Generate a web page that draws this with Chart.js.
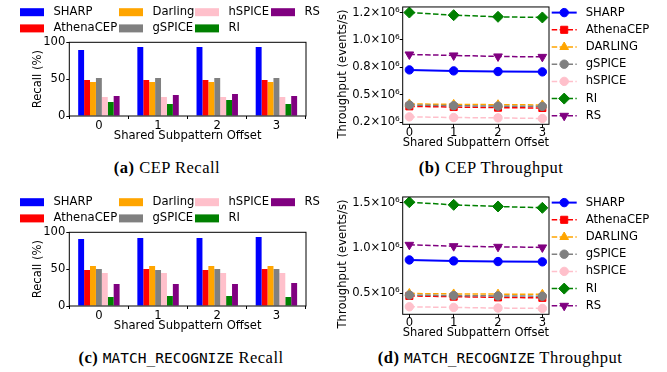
<!DOCTYPE html>
<html><head><meta charset="utf-8">
<script src="https://cdn.jsdelivr.net/npm/chart.js@4.4.1/dist/chart.umd.min.js"></script>
<style>
html,body{margin:0;padding:0;background:#fff;}
#root{position:relative;width:667px;height:372px;overflow:hidden;background:#fff;}
canvas{position:absolute;}
.cap{position:absolute;width:400px;text-align:center;font-family:'Liberation Serif',serif;font-size:16.5px;line-height:20px;letter-spacing:0.5px;color:#000;white-space:nowrap;}
.cap b{font-weight:bold;}
.mono{font-family:'DejaVu Sans Mono',monospace;font-size:14.5px;letter-spacing:0;}
</style></head>
<body><div id="root">
<canvas id="ca" width="333" height="150" style="left:0;top:0"></canvas>
<canvas id="cb" width="334" height="150" style="left:333px;top:0"></canvas>
<canvas id="cc" width="333" height="150" style="left:0;top:190px"></canvas>
<canvas id="cd" width="334" height="150" style="left:333px;top:190px"></canvas>
<div class="cap" style="left:-33px;top:158px"><b>(a)</b> CEP Recall</div>
<div class="cap" style="left:291px;top:158px"><b>(b)</b> CEP Throughput</div>
<div class="cap" style="left:-19px;top:348px"><b>(c)</b> <span class="mono">MATCH_RECOGNIZE</span> Recall</div>
<div class="cap" style="left:300px;top:348px"><b>(d)</b> <span class="mono">MATCH_RECOGNIZE</span> Throughput</div>
</div>
<script>
// ---------- data ----------
const offsets = [0, 1, 2, 3];
const offsetLabels = ['0', '1', '2', '3'];
const barSeries = ['SHARP', 'AthenaCEP', 'Darling', 'gSPICE', 'hSPICE', 'RI', 'RS'];
const lineSeries = ['SHARP', 'AthenaCEP', 'DARLING', 'gSPICE', 'hSPICE', 'RI', 'RS'];

// (a) CEP recall (%)
const cepRecallSHARP     = [89.6, 93.7, 93.7, 93.7];
const cepRecallAthenaCEP = [48.9, 48.9, 48.9, 48.9];
const cepRecallDarling   = [46.2, 46.2, 46.2, 46.2];
const cepRecallGSPICE    = [51.6, 51.6, 51.6, 51.6];
const cepRecallHSPICE    = [25.8, 25.8, 25.8, 25.8];
const cepRecallRI        = [19.0, 16.3, 21.7, 16.3];
const cepRecallRS        = [27.1, 28.5, 29.9, 27.1];

// (b) CEP throughput (events/s)
const cepTputSHARP     = [726000, 717000, 711000, 708000];
const cepTputAthenaCEP = [393000, 387000, 381000, 378000];
const cepTputDARLING   = [415000, 411000, 408000, 406000];
const cepTputGSPICE    = [405000, 399000, 395000, 393000];
const cepTputHSPICE    = [297000, 291000, 288000, 282000];
const cepTputRI        = [1250000, 1226000, 1211000, 1205000];
const cepTputRS        = [867000, 858000, 849000, 845000];

// (c) MATCH_RECOGNIZE recall (%)
const mrRecallSHARP     = [91.0, 92.3, 92.3, 93.7];
const mrRecallAthenaCEP = [48.9, 50.2, 48.9, 50.2];
const mrRecallDarling   = [54.3, 54.3, 54.3, 54.3];
const mrRecallGSPICE    = [50.2, 48.9, 50.2, 50.2];
const mrRecallHSPICE    = [44.8, 44.8, 44.8, 44.8];
const mrRecallRI        = [12.2, 13.6, 13.6, 12.2];
const mrRecallRS        = [29.9, 29.9, 29.9, 31.2];

// (d) MATCH_RECOGNIZE throughput (events/s)
const mrTputSHARP     = [866000, 855000, 848000, 845000];
const mrTputAthenaCEP = [468000, 460000, 452000, 447000];
const mrTputDARLING   = [495000, 490000, 488000, 486000];
const mrTputGSPICE    = [478000, 472000, 468000, 465000];
const mrTputHSPICE    = [348000, 341000, 334000, 330000];
const mrTputRI        = [1504000, 1475000, 1457000, 1442000];
const mrTputRS        = [1033000, 1018000, 1011000, 1004000];

// tick labels
const recallTicks = [0, 50, 100];
const cepTputTickValues = [250000, 500000, 750000, 1000000, 1250000];
const cepTputTickLabels = ['0.2×10⁶', '0.5×10⁶', '0.8×10⁶', '1.0×10⁶', '1.2×10⁶'];
const mrTputTickValues = [500000, 1000000, 1500000];
const mrTputTickLabels = ['0.5×10⁶', '1.0×10⁶', '1.5×10⁶'];

// ---------- styles ----------
const colors = ['#0000ff', '#ff0000', '#ffa500', '#808080', '#ffc0cb', '#008000', '#800080'];
const markers = ['circle', 'rect', 'triangle', 'circle', 'circle', 'rectRot', 'triangle'];
const markerRadius = [4.2, 5, 5, 4.2, 4.2, 5.5, 5];
const markerRotation = [0, 0, 0, 0, 0, 0, 180];
const FONT = 'DejaVu Sans';
const FS = 11.6;

Chart.defaults.font.family = FONT;
Chart.defaults.font.size = FS;
Chart.defaults.color = '#000';

const framePlugin = {
  id: 'frame',
  afterDraw(chart) {
    const {left, top, right, bottom} = chart.chartArea;
    const ctx = chart.ctx;
    ctx.save();
    ctx.strokeStyle = '#000';
    ctx.lineWidth = 1;
    ctx.strokeRect(left, top, right - left, bottom - top);
    ctx.restore();
  }
};

const barLegendColX = [20, 119, 195, 271];
const barLegendRowY = [12.2, 28.4];
const barLegendPlugin = {
  id: 'barLegend',
  afterDraw(chart) {
    const ctx = chart.ctx;
    ctx.save();
    ctx.font = FS + 'px "' + FONT + '"';
    ctx.textBaseline = 'middle';
    ctx.textAlign = 'left';
    chart.data.datasets.forEach((ds, i) => {
      const x = barLegendColX[Math.floor(i / 2)];
      const y = barLegendRowY[i % 2];
      ctx.fillStyle = ds.backgroundColor;
      ctx.fillRect(x, y - 4, 24, 8);
      ctx.fillStyle = '#000';
      ctx.fillText(ds.label, x + 33.5, y);
    });
    ctx.restore();
  }
};

const lineLegendPlugin = {
  id: 'lineLegend',
  afterDraw(chart) {
    const ctx = chart.ctx;
    ctx.save();
    ctx.font = FS + 'px "' + FONT + '"';
    ctx.textBaseline = 'middle';
    ctx.textAlign = 'left';
    chart.data.datasets.forEach((ds, i) => {
      const y = 12.6 + i * 17.2;
      ctx.strokeStyle = ds.borderColor;
      ctx.lineWidth = ds.borderWidth;
      ctx.setLineDash(ds.borderDash || []);
      ctx.beginPath(); ctx.moveTo(218.7, y); ctx.lineTo(243.7, y); ctx.stroke();
      ctx.setLineDash([]);
      ctx.fillStyle = ds.backgroundColor;
      ctx.lineWidth = 1;
      Chart.helpers.drawPoint(ctx, {pointStyle: ds.pointStyle, radius: ds.pointRadius, rotation: ds.pointRotation, borderWidth: 1}, 231.2, y);
      ctx.fillStyle = '#000';
      ctx.fillText(ds.label, 252.7, y);
    });
    // y-axis title (placed slightly below the axis centre, as in the reference)
    ctx.translate(10, 74);
    ctx.rotate(-Math.PI / 2);
    ctx.textAlign = 'center';
    ctx.fillText('Throughput (events/s)', 0, 0);
    ctx.restore();
  }
};

function barChart(id, arrays) {
  return new Chart(document.getElementById(id), {
    type: 'bar',
    data: {
      labels: offsetLabels,
      datasets: barSeries.map((name, i) => ({
        label: name, data: arrays[i], backgroundColor: colors[i], borderWidth: 0,
        categoryPercentage: 0.7, barPercentage: 1.0
      }))
    },
    options: {
      responsive: false, animation: false,
      layout: {padding: {left: 0, top: 42.3, right: 27, bottom: 0}},
      plugins: {legend: {display: false}, tooltip: {enabled: false}},
      scales: {
        x: {
          grid: {display: true, drawOnChartArea: false, drawTicks: true, tickLength: 3, color: '#000'},
          border: {display: false},
          ticks: {padding: 0, maxRotation: 0, color: '#000'},
          title: {display: true, text: 'Shared Subpattern Offset', color: '#000', padding: {top: 0, bottom: 7}},
          afterFit: s => { s.height = 34; }
        },
        y: {
          min: 0, max: 100,
          grid: {display: true, drawOnChartArea: false, drawTicks: true, tickLength: 3, color: '#000'},
          border: {display: false},
          afterBuildTicks: s => { s.ticks = recallTicks.map(v => ({value: v})); },
          ticks: {padding: 1, color: '#000'},
          title: {display: true, text: 'Recall (%)', color: '#000', padding: {top: 31, bottom: 0}},
          afterFit: s => { s.width = 69.3; }
        }
      }
    },
    plugins: [framePlugin, barLegendPlugin]
  });
}

function lineChart(id, arrays, yMin, yMax, tickVals, tickLabels) {
  return new Chart(document.getElementById(id), {
    type: 'line',
    data: {
      datasets: lineSeries.map((name, i) => ({
        label: name,
        data: offsets.map((x, j) => ({x: x, y: arrays[i][j]})),
        borderColor: colors[i], backgroundColor: colors[i],
        borderWidth: i === 0 ? 2 : 1.5,
        borderDash: i === 0 ? [] : [5.5, 2.4],
        pointStyle: markers[i], pointRadius: markerRadius[i], pointRotation: markerRotation[i],
        pointBorderWidth: 1, pointBorderColor: colors[i], pointBackgroundColor: colors[i],
        tension: 0, fill: false, order: -i
      }))
    },
    options: {
      responsive: false, animation: false,
      layout: {padding: {left: 0, top: 5, right: 118, bottom: 0}},
      plugins: {legend: {display: false}, tooltip: {enabled: false}},
      scales: {
        x: {
          type: 'linear', min: -0.15, max: 3.15,
          grid: {display: true, drawOnChartArea: false, drawTicks: true, tickLength: 3, color: '#000'},
          border: {display: false},
          afterBuildTicks: s => { s.ticks = offsets.map(v => ({value: v})); },
          ticks: {padding: -1, maxRotation: 0, color: '#000', callback: v => offsetLabels[offsets.indexOf(v)]},
          title: {display: true, text: 'Shared Subpattern Offset', color: '#000', padding: {top: 0, bottom: 0.5}},
          afterFit: s => { s.height = 25.7; }
        },
        y: {
          type: 'linear', min: yMin, max: yMax,
          grid: {display: true, drawOnChartArea: false, drawTicks: true, tickLength: 3, color: '#000'},
          border: {display: false},
          afterBuildTicks: s => { s.ticks = tickVals.map(v => ({value: v})); },
          ticks: {padding: 0, color: '#000', callback: v => tickLabels[tickVals.indexOf(v)]},
          title: {display: false},
          afterFit: s => { s.width = 69.7; }
        }
      }
    },
    plugins: [framePlugin, lineLegendPlugin]
  });
}

barChart('ca', [cepRecallSHARP, cepRecallAthenaCEP, cepRecallDarling, cepRecallGSPICE, cepRecallHSPICE, cepRecallRI, cepRecallRS]);
barChart('cc', [mrRecallSHARP, mrRecallAthenaCEP, mrRecallDarling, mrRecallGSPICE, mrRecallHSPICE, mrRecallRI, mrRecallRS]);
lineChart('cb', [cepTputSHARP, cepTputAthenaCEP, cepTputDARLING, cepTputGSPICE, cepTputHSPICE, cepTputRI, cepTputRS],
  229000, 1301000, cepTputTickValues, cepTputTickLabels);
lineChart('cd', [mrTputSHARP, mrTputAthenaCEP, mrTputDARLING, mrTputGSPICE, mrTputHSPICE, mrTputRI, mrTputRS],
  265000, 1562000, mrTputTickValues, mrTputTickLabels);
</script>
</body></html>
